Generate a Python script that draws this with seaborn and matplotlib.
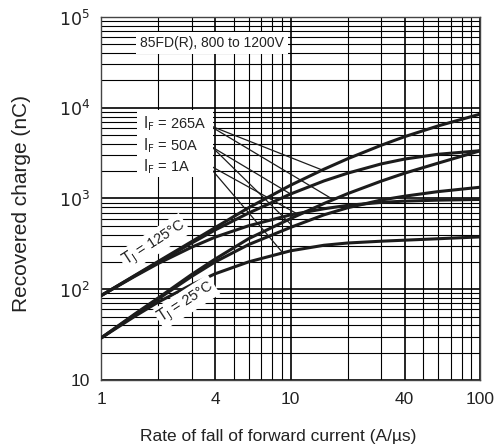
import numpy as np
import pandas as pd
import seaborn as sns
import matplotlib.pyplot as plt
from matplotlib.patches import Rectangle
from matplotlib.ticker import FixedLocator, FixedFormatter, NullFormatter

sns.set_style("white")
plt.rcParams["font.family"] = ["Liberation Sans", "DejaVu Sans"]

# rate of fall of forward current (A/us)
rate = [1, 1.5, 2, 3, 4, 6, 10, 15, 20, 30, 40, 60, 100]

# recovered charge (nC), TJ = 125 C
qrr_125_265a = [85, 141, 202, 334, 478, 790, 1400, 2100, 2740, 3850, 4800, 6300, 8500]
qrr_125_50a = [85, 140, 198, 322, 450, 690, 1120, 1560, 1900, 2400, 2720, 3070, 3360]
qrr_125_1a = [85, 138, 192, 290, 375, 500, 660, 770, 840, 905, 935, 958, 975]

# recovered charge (nC), TJ = 25 C
qrr_25_265a = [29, 53, 80, 145, 215, 360, 600, 880, 1130, 1550, 1900, 2450, 3350]
qrr_25_50a = [29, 52, 78, 138, 200, 310, 480, 660, 790, 960, 1060, 1190, 1330]
qrr_25_1a = [29, 50, 72, 112, 148, 200, 265, 305, 323, 338, 347, 360, 377]

x_ticks = [1, 4, 10, 40, 100]
x_labels = ["1", "4", "10", "40", "100"]
y_ticks = [10, 1e2, 1e3, 1e4, 1e5]
y_labels = ["10", "$10^2$", "$10^3$", "$10^4$", "$10^5$"]

curves = {
    "125C 265A": qrr_125_265a,
    "125C 50A": qrr_125_50a,
    "125C 1A": qrr_125_1a,
    "25C 265A": qrr_25_265a,
    "25C 50A": qrr_25_50a,
    "25C 1A": qrr_25_1a,
}
df = pd.concat(
    [pd.DataFrame({"rate": rate, "qrr": v, "curve": k}) for k, v in curves.items()],
    ignore_index=True,
)


def on_curve(name, x):
    """Charge value of a curve at rate x (log-log reading)."""
    return float(np.exp(np.interp(np.log(x), np.log(rate), np.log(curves[name]))))


fig = plt.figure(figsize=(4.98, 4.47), dpi=100)
ax = fig.add_axes([0.203, 0.15, 0.761, 0.812])
ax.set_xscale("log")
ax.set_yscale("log")

sns.lineplot(data=df, x="rate", y="qrr", units="curve", estimator=None,
             color="#1c1c1c", lw=2.2, ax=ax, zorder=4, legend=False)

ax.set_xlim(1, 100)
ax.set_ylim(10, 1e5)
ax.xaxis.set_major_locator(FixedLocator(x_ticks))
ax.xaxis.set_major_formatter(FixedFormatter(x_labels))
ax.xaxis.set_minor_formatter(NullFormatter())
ax.yaxis.set_major_locator(FixedLocator(y_ticks))
ax.yaxis.set_major_formatter(FixedFormatter(y_labels))
ax.set_xticks([2, 3, 5, 6, 7, 8, 9, 20, 30, 50, 60, 70, 80, 90], minor=True)
ax.set_yticks([v * m for v in [10, 100, 1e3, 1e4] for m in range(2, 10)], minor=True)
ax.tick_params(which="both", length=0, labelsize=12.5, colors="#222222")
ax.tick_params(axis="x", pad=9)
ax.tick_params(axis="y", pad=8)

ax.grid(which="major", color="black", lw=1.2)
ax.grid(which="minor", color="black", lw=0.8)
for s in ax.spines.values():
    s.set_color("#444444")
    s.set_linewidth(1.0)

ax.set_xlabel("Rate of fall of forward current (A/µs)", fontsize=12.5, color="#222222")
ax.set_ylabel("Recovered charge (nC)", fontsize=15, color="#222222")
ax.xaxis.set_label_coords(0.467, -0.135)
ax.yaxis.set_label_coords(-0.185, 0.485)

# title box
ax.text(1.6, 52000, "85FD(R), 800 to 1200V", fontsize=10, va="center", ha="left",
        color="#222222", zorder=6,
        bbox=dict(facecolor="white", edgecolor="none", pad=3))

# current labels box with leader lines
ax.add_patch(Rectangle((1.55, 1725), 3.9 - 1.55, 9440 - 1725,
                       facecolor="white", edgecolor="none", zorder=5))
labels = [
    (r"$\mathrm{I_F}$ = 265A", 6600, (3.67, 6470), [("125C 265A", 14.7), ("25C 265A", 16.8)]),
    (r"$\mathrm{I_F}$ = 50A", 3790, (3.85, 3690), [("125C 50A", 10.0), ("25C 50A", 10.3)]),
    (r"$\mathrm{I_F}$ = 1A", 2220, (3.62, 2400), [("125C 1A", 10.8), ("25C 1A", 9.1)]),
]
for text, ypos, anchor, targets in labels:
    ax.text(1.67, ypos, text, fontsize=10.5, va="center", ha="left",
            color="#222222", zorder=6)
    for name, xt in targets:
        ax.plot([anchor[0], xt], [anchor[1], on_curve(name, xt)],
                color="#1c1c1c", lw=0.9, zorder=3)

# junction temperature labels
ax.text(1.9, 324, r"$\mathrm{T_J}$ = 125°C", fontsize=10.5, rotation=33, ha="center", va="center",
        color="#222222", zorder=6, rotation_mode="anchor",
        bbox=dict(facecolor="white", edgecolor="none", pad=1))
ax.text(2.81, 72, r"$\mathrm{T_J}$ = 25°C", fontsize=10.5, rotation=33, ha="center", va="center",
        color="#222222", zorder=6, rotation_mode="anchor",
        bbox=dict(facecolor="white", edgecolor="none", pad=1))

fig.savefig("out.png", dpi=100)
